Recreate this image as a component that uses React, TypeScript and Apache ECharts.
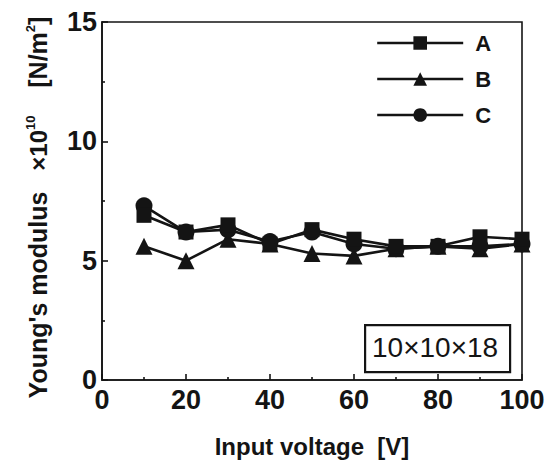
import React, { useEffect, useRef } from "react";
import * as echarts from "echarts";

const voltages = [10, 20, 30, 40, 50, 60, 70, 80, 90, 100];
const seriesA = [6.9, 6.2, 6.5, 5.7, 6.3, 5.9, 5.6, 5.6, 6.0, 5.9];
const seriesB = [5.6, 5.0, 5.9, 5.7, 5.3, 5.2, 5.5, 5.6, 5.5, 5.7];
const seriesC = [7.3, 6.2, 6.3, 5.8, 6.2, 5.7, 5.5, 5.6, 5.6, 5.7];
const seriesNames = ["A", "B", "C"];
const sizeLabel = "10×10×18";

const FONT = "Liberation Sans, Arial, Helvetica, sans-serif";
const INK = "#141414";

export default function App() {
  const ref = useRef<HTMLDivElement>(null);
  useEffect(() => {
    if (!ref.current) return;
    const chart = echarts.init(ref.current, null, { renderer: "svg" });
    const mk = (vals: number[]) => voltages.map((v, i) => [v, vals[i]]);
    const lineStyle = { color: INK, width: 2.6 };
    chart.setOption({
      animation: false,
      backgroundColor: "#fff",
      textStyle: { fontFamily: FONT },
      grid: {
        left: 102,
        right: 28,
        top: 22,
        bottom: 85,
        show: true,
        borderColor: INK,
        borderWidth: 1.6,
        backgroundColor: "transparent",
      },
      legend: {
        orient: "vertical",
        left: 371,
        top: 27,
        itemWidth: 86,
        itemHeight: 17,
        itemGap: 14,
        data: seriesNames,
        lineStyle: { width: 2.4, color: INK },
        textStyle: {
          fontSize: 22,
          lineHeight: 17,
          color: INK,
          fontFamily: FONT,
          fontWeight: "bold",
          padding: [4, 0, 0, 7],
        },
      },
      xAxis: {
        type: "value",
        min: 0,
        max: 100,
        interval: 20,
        name: "Input voltage  [V]",
        nameLocation: "middle",
        nameGap: 54,
        nameTextStyle: { fontSize: 24, color: INK, fontFamily: FONT, fontWeight: "bold" },
        axisLine: { show: true, lineStyle: { color: INK, width: 1.6 } },
        axisTick: { show: true, inside: true, length: 6, lineStyle: { color: INK, width: 1.6 } },
        minorTick: { show: true, splitNumber: 2, length: 3, lineStyle: { color: INK, width: 1.6 } },
        splitLine: { show: false },
        axisLabel: { fontSize: 27, color: INK, margin: 6, fontFamily: FONT, fontWeight: "bold" },
      },
      yAxis: {
        type: "value",
        min: 0,
        max: 15,
        interval: 5,
        name: "{a|Young's modulus   }{m|×10}{s|10}{a|    [N/m}{s|2}{a|]}",
        nameLocation: "middle",
        nameGap: 50,
        nameTextStyle: {
          padding: [0, 13, 0, 0],
          rich: {
            a: { fontSize: 25, color: INK, fontFamily: FONT, fontWeight: "bold", lineHeight: 28 },
            m: { fontSize: 24, color: INK, fontFamily: FONT, fontWeight: "bold", lineHeight: 28 },
            s: { fontSize: 13, color: INK, fontFamily: FONT, fontWeight: "bold", lineHeight: 15, verticalAlign: "top" },
          },
        },
        axisLine: { show: true, lineStyle: { color: INK, width: 1.6 } },
        axisTick: { show: true, inside: true, length: 6, lineStyle: { color: INK, width: 1.6 } },
        minorTick: { show: true, splitNumber: 2, length: 3, lineStyle: { color: INK, width: 1.6 } },
        splitLine: { show: false },
        axisLabel: { fontSize: 27, color: INK, margin: 5, fontFamily: FONT, fontWeight: "bold" },
      },
      graphic: [
        {
          type: "rect",
          left: 364,
          top: 324,
          shape: { width: 145, height: 47 },
          style: { fill: "#fff", stroke: INK, lineWidth: 2.2 },
          z: 10,
        },
        {
          type: "text",
          left: 372,
          top: 333,
          style: { text: sizeLabel, fontSize: 28, fill: INK, fontFamily: FONT },
          z: 11,
        },
      ],
      series: [
        {
          name: "A",
          type: "line",
          data: mk(seriesA),
          symbol: "rect",
          symbolSize: 15,
          z: 5,
          itemStyle: { color: INK },
          lineStyle,
        },
        {
          name: "B",
          type: "line",
          data: mk(seriesB),
          symbol: "triangle",
          symbolSize: 17,
          z: 3,
          itemStyle: { color: INK },
          lineStyle,
        },
        {
          name: "C",
          type: "line",
          data: mk(seriesC),
          symbol: "circle",
          symbolSize: 17,
          z: 4,
          itemStyle: { color: INK },
          lineStyle,
        },
      ],
    });
    return () => chart.dispose();
  }, []);
  return (
    <div
      ref={ref}
      style={{ position: "fixed", left: 0, top: 0, width: 550, height: 465 }}
    />
  );
}
